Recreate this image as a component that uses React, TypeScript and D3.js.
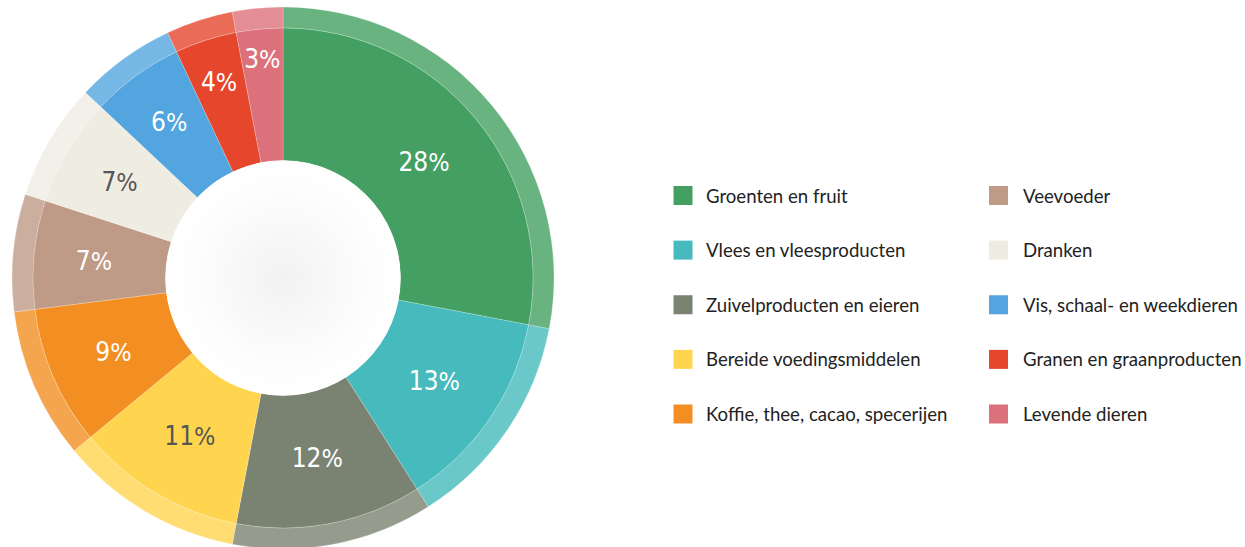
import React from "react";
import * as d3 from "d3";

const categories = [
  "Groenten en fruit",
  "Vlees en vleesproducten",
  "Zuivelproducten en eieren",
  "Bereide voedingsmiddelen",
  "Koffie, thee, cacao, specerijen",
  "Veevoeder",
  "Dranken",
  "Vis, schaal- en weekdieren",
  "Granen en graanproducten",
  "Levende dieren",
];
const values = [28, 13, 12, 11, 9, 7, 7, 6, 4, 3];
const colors = [
  "#44a062",
  "#46babc",
  "#7a8371",
  "#ffd54f",
  "#f28e22",
  "#bf9a87",
  "#efece2",
  "#52a5de",
  "#e5462c",
  "#dc717b",
];
const labelColors = ["#fff", "#fff", "#fff", "#555", "#fff", "#fff", "#555", "#fff", "#fff", "#fff"];

const W = 1245;
const H = 547;
const cx = 283;
const cy = 278;
const rHole = 117.5;
const rMain = 250;
const rOuter = 271;
const rLabel = 183;

export default function App() {
  const total = d3.sum(values);
  const pie = d3.pie<number>().sort(null).startAngle(0).endAngle(2 * Math.PI);
  const arcs = pie(values);
  const mainArc = d3.arc<d3.PieArcDatum<number>>().innerRadius(rHole).outerRadius(rMain);
  const ringArc = d3.arc<d3.PieArcDatum<number>>().innerRadius(rMain).outerRadius(rOuter);

  const legendX = d3.scaleOrdinal<number, number>().domain([0, 1]).range([673.5, 989]);
  const legendY = d3.scaleLinear().domain([0, 4]).range([195.5, 414]);

  return (
    <svg width={W} height={H} style={{ position: "absolute", left: 0, top: 0, display: "block" }}>
      <defs>
        <radialGradient id="hole" cx="50%" cy="50%" r="50%">
          <stop offset="0%" stopColor="#f2f2f2" />
          <stop offset="75%" stopColor="#fdfdfd" />
          <stop offset="100%" stopColor="#ffffff" />
        </radialGradient>
      </defs>
      <g transform={`translate(${cx},${cy})`}>
        {arcs.map((a, i) => (
          <path
            key={"r" + i}
            d={ringArc(a) || ""}
            fill={colors[i]}
            fillOpacity={0.8}
            stroke="#fff"
            strokeOpacity={0.35}
            strokeWidth={0.6}
          />
        ))}
        {arcs.map((a, i) => (
          <path
            key={"m" + i}
            d={mainArc(a) || ""}
            fill={colors[i]}
            stroke="#fff"
            strokeOpacity={0.35}
            strokeWidth={0.6}
          />
        ))}
        <circle r={rHole} fill="url(#hole)" />
        {arcs.map((a, i) => {
          const p = a.value / total;
          const r = rLabel + 1.6 * Math.max(0, 1 / p - 10);
          const mid = (a.startAngle + a.endAngle) / 2;
          const lx = r * Math.sin(mid);
          const ly = -r * Math.cos(mid);
          return (
            <text
              key={"t" + i}
              x={lx}
              y={ly}
              dy="0.36em"
              textAnchor="middle"
              fill={labelColors[i]}
              style={{
                fontFamily: "'DejaVu Sans Condensed', 'DejaVu Sans', sans-serif",
                fontStretch: "condensed",
                fontSize: 26,
              }}
            >
              <tspan style={{ fontWeight: 400 }}>{values[i]}</tspan>
              <tspan style={{ fontWeight: 200, fontSize: 25 }}>%</tspan>
            </text>
          );
        })}
      </g>
      {categories.map((c, i) => {
        const col = Math.floor(i / 5);
        const row = i % 5;
        const x = legendX(col);
        const y = legendY(row);
        return (
          <g key={"l" + i} transform={`translate(${x},${y})`}>
            <rect x={0} y={-9.5} width={19} height={19} fill={colors[i]} />
            <text
              x={col === 0 ? 32.5 : 34}
              y={0}
              dy="0.38em"
              fill="#222"
              style={{ fontFamily: "Lato, 'Open Sans', sans-serif", fontSize: 18.6 }}
            >
              {c}
            </text>
          </g>
        );
      })}
    </svg>
  );
}
